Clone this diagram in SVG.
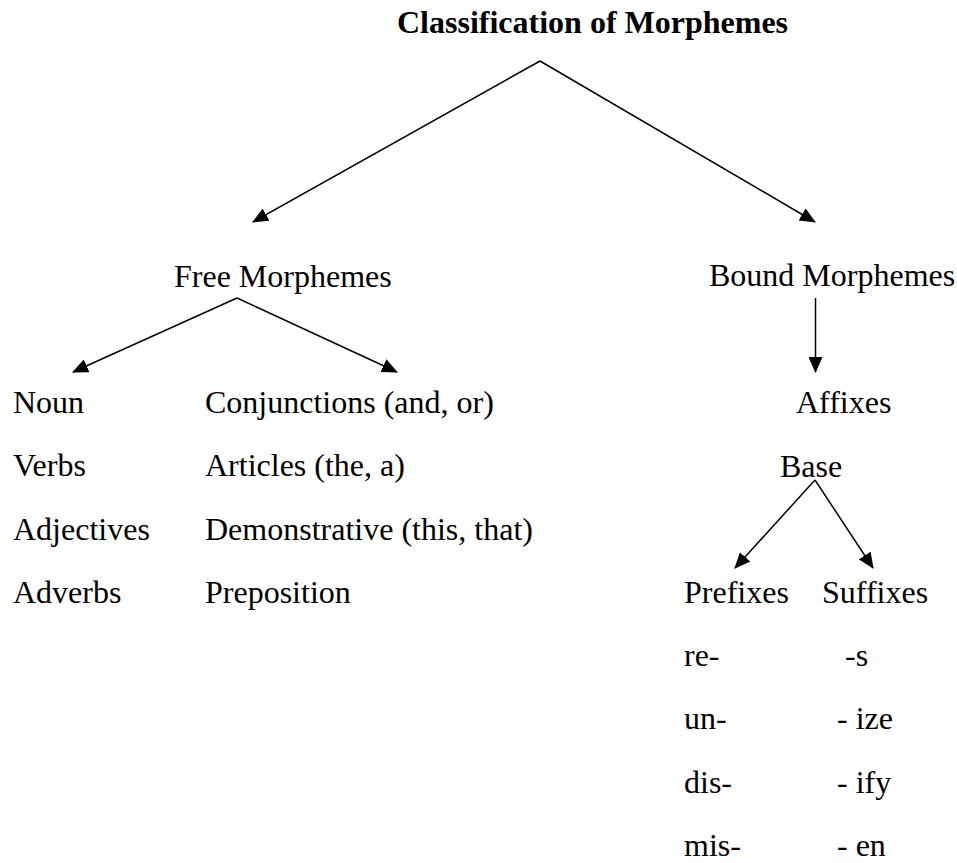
<svg xmlns="http://www.w3.org/2000/svg" width="957" height="863" viewBox="0 0 957 863" font-family="'Liberation Serif', Tinos, 'Times New Roman', Times, 'DejaVu Serif', serif">
<style>
text{font-family:'Liberation Serif', Tinos, 'Times New Roman', Times, 'DejaVu Serif', serif;font-size:32px;fill:#000}
.title{font-weight:bold}
.conn line{stroke:#000;stroke-width:1.5;fill:none;marker-end:url(#ah)}
</style>
<defs>
<marker id="ah" markerUnits="userSpaceOnUse" markerWidth="16" markerHeight="14" refX="15" refY="7" orient="auto" viewBox="0 0 16 14">
<path d="M0,0 L16,7 L0,14 z" fill="#000"/>
</marker>
</defs>
<rect width="957" height="863" fill="#fff"/>
<g id="title"><text class="title" x="397" y="33">Classification of Morphemes</text></g>
<g id="free"><text x="174" y="287">Free Morphemes</text></g>
<g id="bound"><text x="709" y="286">Bound Morphemes</text></g>
<g id="left-col">
<text x="13" y="413">Noun</text>
<text x="13" y="476">Verbs</text>
<text x="13" y="540">Adjectives</text>
<text x="13" y="603">Adverbs</text>
</g>
<g id="mid-col">
<text x="205" y="413">Conjunctions (and, or)</text>
<text x="205" y="476">Articles (the, a)</text>
<text x="205" y="540">Demonstrative (this, that)</text>
<text x="205" y="603">Preposition</text>
</g>
<g id="affixes"><text x="796" y="413">Affixes</text></g>
<g id="base"><text x="780" y="477">Base</text></g>
<g id="prefixes">
<text x="684" y="603">Prefixes</text>
<text x="684" y="666">re-</text>
<text x="684" y="729">un-</text>
<text x="684" y="793">dis-</text>
<text x="684" y="856">mis-</text>
</g>
<g id="suffixes">
<text x="822" y="603">Suffixes</text>
<text x="845" y="666">-s</text>
<text x="837" y="729">- ize</text>
<text x="837" y="793">- ify</text>
<text x="837" y="856">- en</text>
</g>
<g class="conn" id="connectors">
<line x1="540" y1="61" x2="253" y2="222"/>
<line x1="540" y1="61" x2="815" y2="222"/>
<line x1="237" y1="298" x2="73" y2="372"/>
<line x1="237" y1="298" x2="397" y2="372"/>
<line x1="815.5" y1="298" x2="815.5" y2="372"/>
<line x1="815" y1="480" x2="735" y2="568"/>
<line x1="815" y1="480" x2="873" y2="568"/>
</g>
</svg>
